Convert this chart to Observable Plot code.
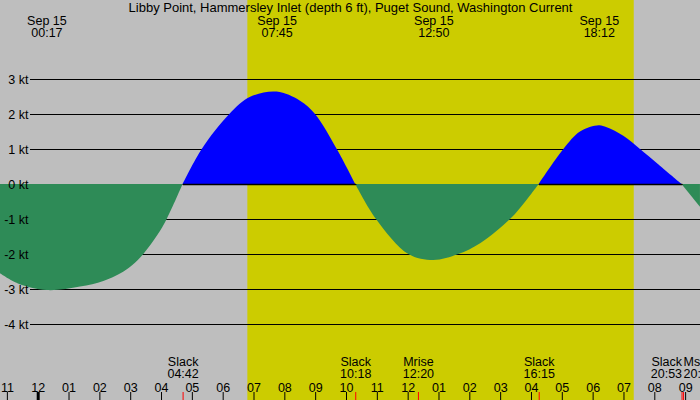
<!DOCTYPE html>
<html><head><meta charset="utf-8">
<script src="https://cdn.jsdelivr.net/npm/d3@7"></script>
<script src="https://cdn.jsdelivr.net/npm/@observablehq/plot@0.6"></script>
<style>
html,body{margin:0;padding:0;background:#fff}
#chart svg{display:block}
</style>
</head><body><div id="chart"></div>
<script>
const title = "Libby Point, Hammersley Inlet (depth 6 ft), Puget Sound, Washington Current";
const dateLabel = "Sep 15";

// current curve: hours since midnight Sep 15, speed in knots (flood +, ebb -)
const hours = [-1.223, -0.64, 0.283, 1.372, 2.128, 2.669, 3.05, 3.425, 3.879, 4.184, 4.70,
               5.32, 6.215, 6.89, 7.75, 8.508, 8.995, 9.70, 10.30,
               10.973, 12.02, 12.833, 13.64, 14.35, 15.32, 15.86, 16.25,
               17.05, 17.59, 18.20, 18.456, 18.994, 19.536, 20.078, 20.883, 21.48];
const knots = [-2.55, -2.84, -3.03, -2.93, -2.77, -2.56, -2.33, -2.0, -1.46, -1.0, 0,
               1.0, 2.0, 2.49, 2.64, 2.38, 2.0, 1.0, 0,
               -1.0, -2.0, -2.17, -2.0, -1.69, -1.0, -0.45, 0,
               1.0, 1.5, 1.68, 1.62, 1.38, 1.0, 0.6, 0, -0.65];

// max/min current times (top labels)
const extremeTimes = ["00:17", "07:45", "12:50", "18:12"];
// events (bottom labels)
const eventNames = ["Slack", "Slack", "Mrise", "Slack", "Slack", "Mset"];
const eventTimes = ["04:42", "10:18", "12:20", "16:15", "20:53", "20:56"];
// daylight
const sunrise = "06:48", sunset = "19:20";
// axes
const gridKnots = [3, 2, 1, -1, -2, -3, -4];
const labelKnots = [3, 2, 1, 0, -1, -2, -3, -4];
const hourTicks = d3.range(-1, 22);

const toH = s => { const [a, b] = s.split(":").map(Number); return a + b / 60; };

const pts = hours.map((h, i) => ({h, v: knots[i]}));
const lobes = []; let id = 0;
pts.forEach((p, i) => {
  lobes.push({...p, lobe: id});
  if (p.v === 0 && i > 0 && i < pts.length - 1) { id++; lobes.push({...p, lobe: id}); }
});
const lobeSign = {};
lobes.forEach(d => { if (d.v !== 0) lobeSign[d.lobe] = Math.sign(d.v); });
const pos = lobes.filter(d => lobeSign[d.lobe] > 0);
const neg = lobes.filter(d => lobeSign[d.lobe] < 0);

const extremes = extremeTimes.map(t => ({h: toH(t), text: `${dateLabel}\n${t}`}));
const events = eventNames.map((n, i) => ({h: toH(eventTimes[i]), text: `${n}\n${eventTimes[i]}`}));
events.forEach((e, i) => {
  const prev = events[i - 1], next = events[i + 1];
  e.anchor = next && next.h - e.h < 1 ? "end" : prev && e.h - prev.h < 1 ? "start" : "middle";
});
const daylight = [{x1: toH(sunrise), x2: toH(sunset)}];
const hourFmt = h => String(((h % 12) + 12) % 12 || 12).padStart(2, "0");

const font = {fontFamily: "Liberation Sans, Arial, sans-serif", fontSize: 12.5, fill: "black"};

const chart = Plot.plot({
  width: 700, height: 400,
  marginTop: 0, marginBottom: 0, marginLeft: 0, marginRight: 0,
  x: {domain: [-37.7 / 30.83, 662.3 / 30.83], axis: null},
  y: {domain: [-216 / 35, 184 / 35], axis: null},
  style: {background: "#bebebe"},
  marks: [
    Plot.rect(daylight, {x1: "x1", x2: "x2", fill: "#cccc00"}),
    Plot.ruleY(gridKnots, {stroke: "black", insetLeft: 30}),
    Plot.areaY(neg, {x: "h", y1: 0, y2: "v", z: "lobe", fill: "#2e8b57", curve: "catmull-rom"}),
    Plot.areaY(pos, {x: "h", y1: 0, y2: "v", z: "lobe", fill: "#0000ff", curve: "catmull-rom"}),
    Plot.lineY(pos, {x: "h", y: () => 0, z: "lobe", stroke: "black"}),
    Plot.text(labelKnots, {y: d => d, text: d => `${d} kt`, frameAnchor: "left", dx: 28, textAnchor: "end", ...font}),
    Plot.text([title], {text: d => d, frameAnchor: "top", lineAnchor: "top", dy: 2.5, ...font, fontSize: 13}),
    Plot.text(extremes, {x: "h", text: "text", frameAnchor: "top", lineAnchor: "top", dy: 15.5, lineHeight: 0.96, ...font}),
    Plot.ruleX(hourTicks, {x: d => d, stroke: "black", strokeWidth: d => d === 0 ? 3 : 1, insetTop: 392}),
    Plot.ruleX(events, {x: "h", stroke: "red", insetTop: 392}),
    Plot.text(hourTicks, {x: d => d, text: hourFmt, frameAnchor: "bottom", lineAnchor: "bottom", dy: -9, ...font}),
    ...["middle", "start", "end"].map(a =>
      Plot.text(events.filter(e => e.anchor === a), {x: "h", text: "text", frameAnchor: "bottom", lineAnchor: "bottom", dy: -22.5, lineHeight: 0.96, textAnchor: a, ...font}))
  ]
});
document.getElementById("chart").appendChild(chart);
</script>
</body></html>
